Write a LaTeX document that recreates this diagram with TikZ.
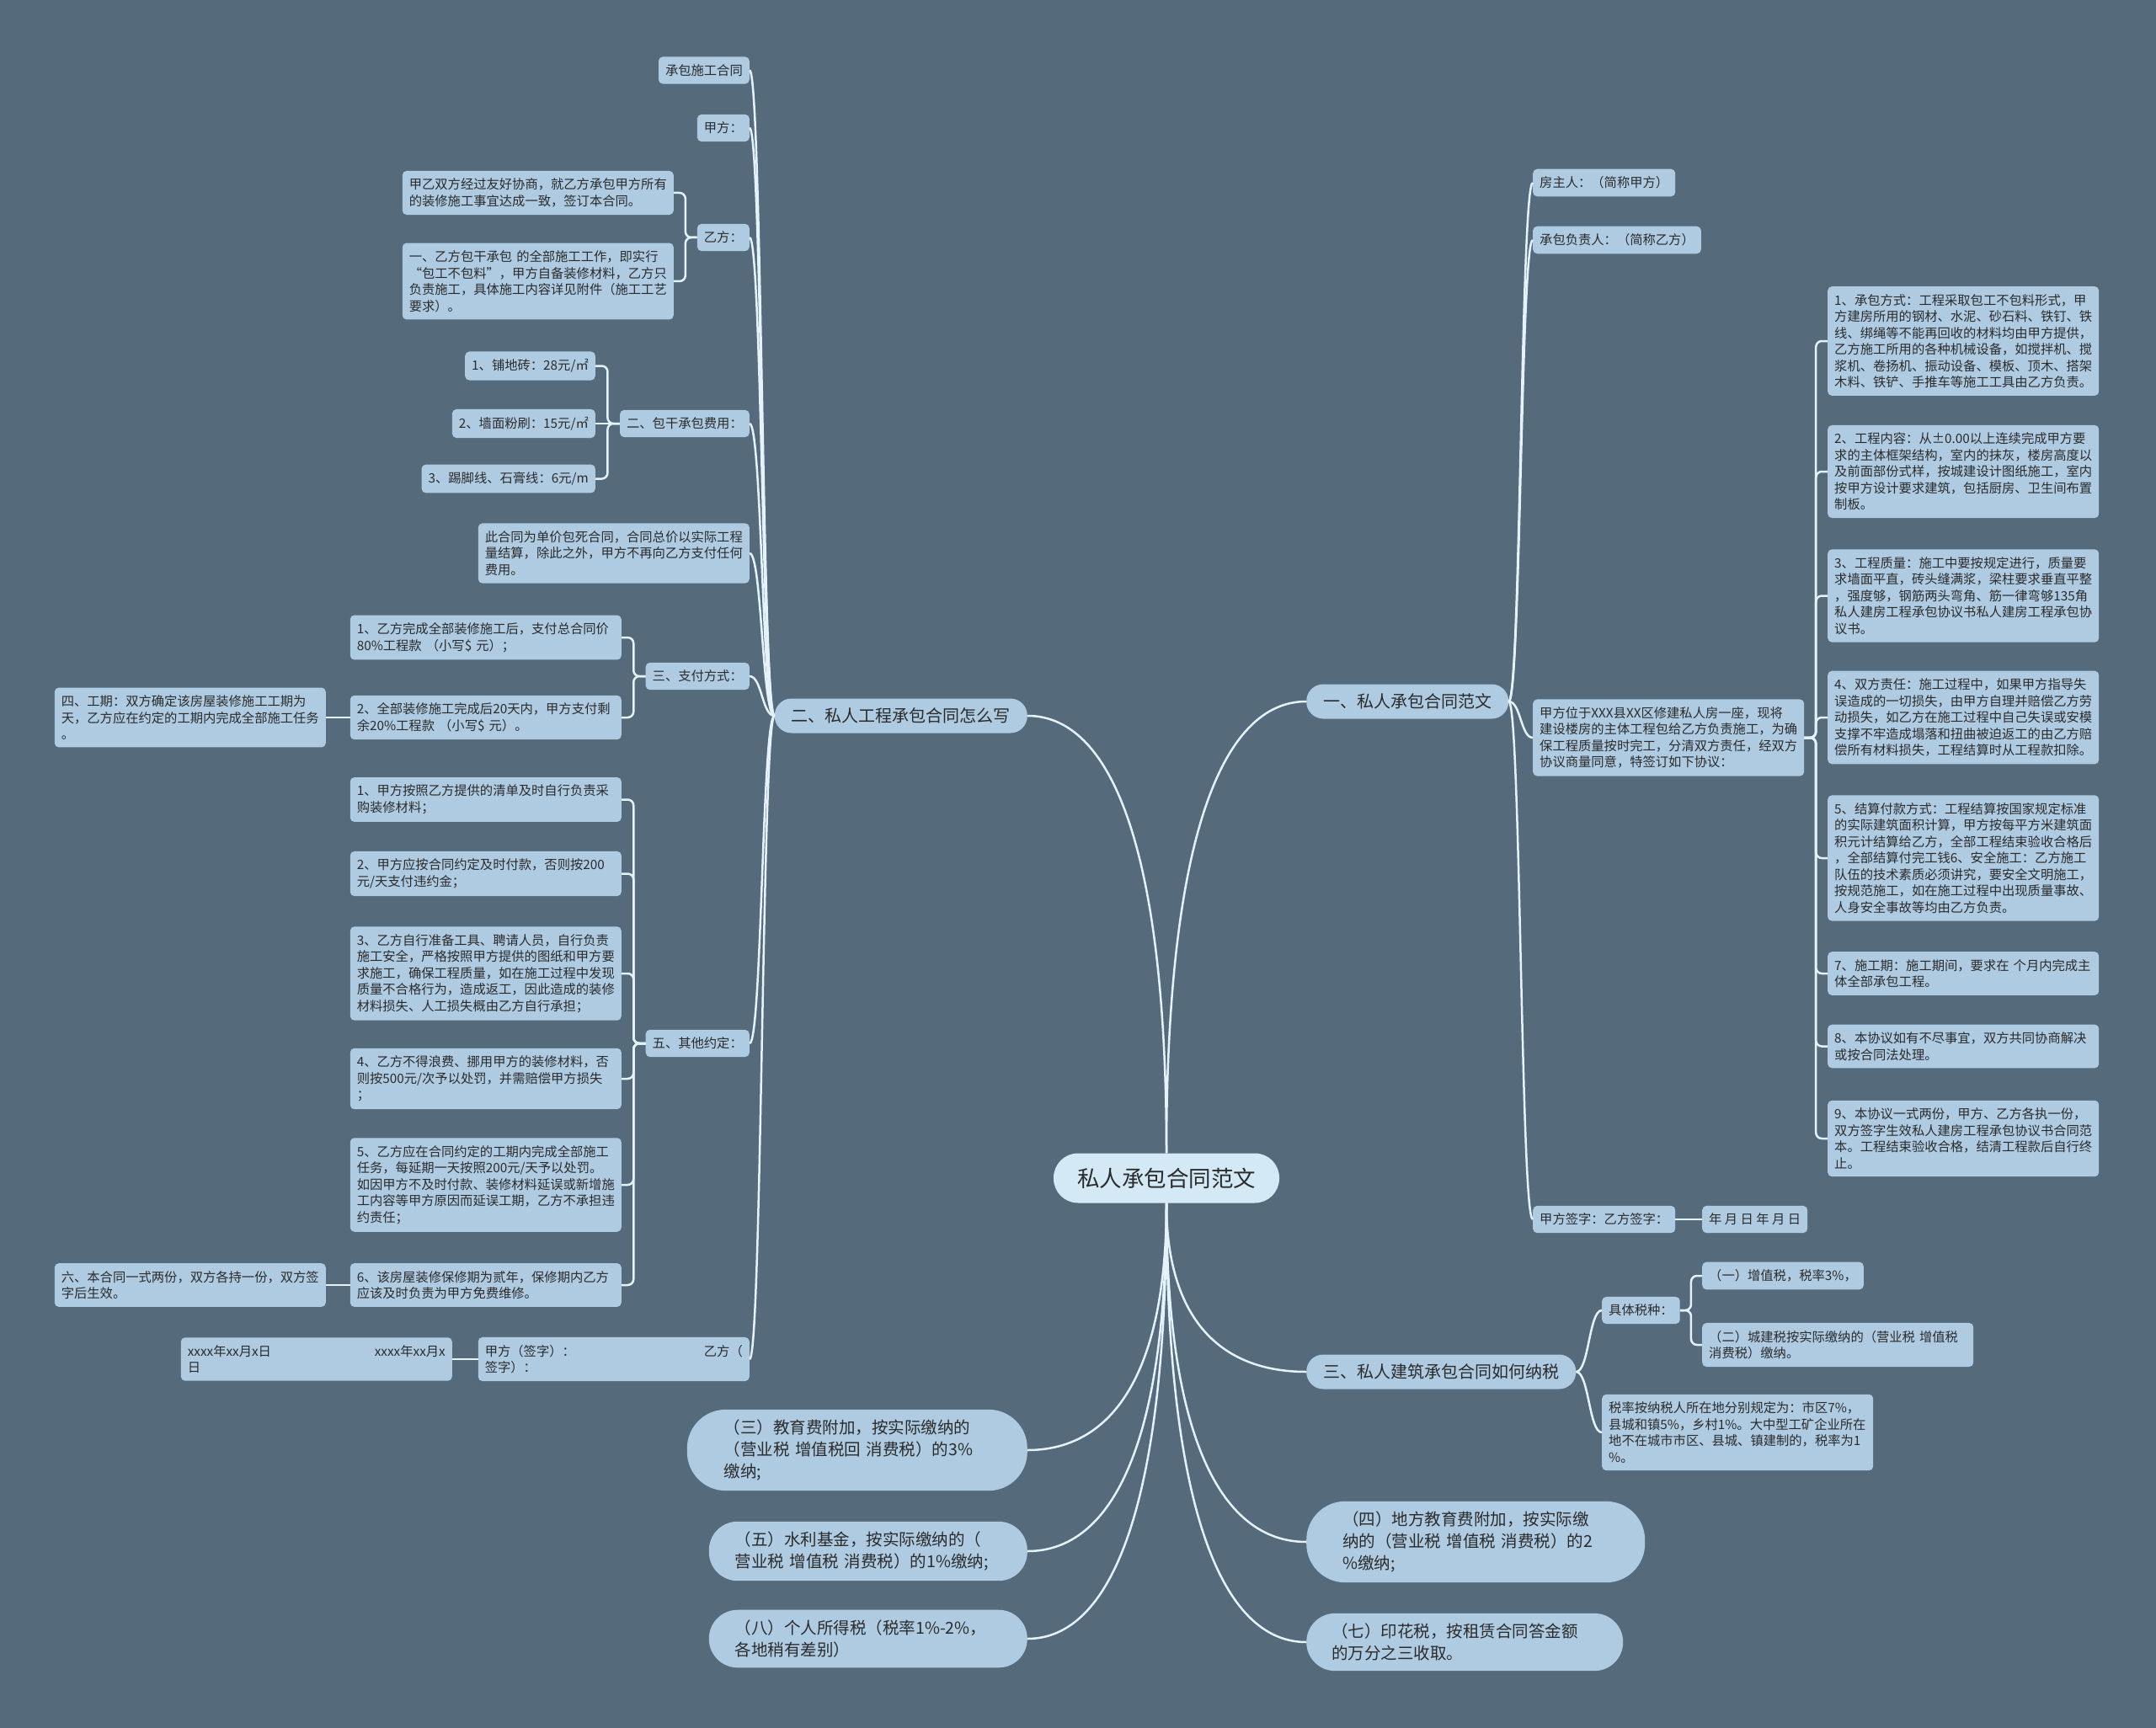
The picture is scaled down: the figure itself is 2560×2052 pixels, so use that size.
\documentclass[tikz,border=0pt]{standalone}
\usepackage{fontspec}
\setmainfont{Noto Sans CJK SC}
\usetikzlibrary{calc}
\definecolor{bg}{HTML}{556B7B}
\definecolor{leaffill}{HTML}{AECBE2}
\definecolor{rootfill}{HTML}{D3E9F5}
\definecolor{wire}{HTML}{E4F2F9}
\definecolor{ink}{HTML}{2B2B2B}
\newcommand{\leafsize}{\fontsize{15.3}{19.5}\selectfont}
\newcommand{\branchsize}{\fontsize{20}{26}\selectfont}
\newcommand{\pillsize}{\fontsize{19.5}{26}\selectfont}
\newcommand{\rootsize}{\fontsize{26.5}{32}\selectfont}
\newcommand{\curvelink}[2]{\draw[link] (#1) .. controls ($(#1)!0.7!(#1 |- #2)$) and ($(#2)!0.6!(#1 |- #2)$) .. (#2);}
\newcommand{\sidelink}[2]{\draw[link] (#1) .. controls ($(#1)!0.5!(#1 -| #2)$) and ($(#2)!0.5!(#2 -| #1)$) .. (#2);}
\newcommand{\bracelink}[2]{\draw[link, rounded corners=7pt] (#1) -- ($(#1)!0.5!(#1 -| #2)$) |- (#2);}

\begin{document}
\begin{tikzpicture}[
    x=1pt, y=-1pt,
    leaf/.style={fill=leaffill, text=ink, rounded corners=5pt, inner xsep=8pt, inner ysep=9pt, font=\leafsize},
    para/.style={leaf, text width=306pt, align=left},
    branch/.style={fill=leaffill, text=ink, rounded corners=20pt, inner xsep=20pt, minimum height=41pt, font=\branchsize},
    pill/.style={fill=leaffill, text=ink, rounded corners=34pt, inner ysep=12pt, text width=316pt, align=left, font=\pillsize},
    link/.style={draw=wire, line width=2.5pt}
]
\fill[bg] (0,0) rectangle (2560,2052);
\useasboundingbox (0,0) rectangle (2560,2052);

\node[fill=rootfill, text=ink, rounded corners=29pt, inner xsep=28pt, minimum height=59pt, font=\rootsize] (root) at (1385,1399) {私人承包合同范文};

\node[branch, anchor=east] (howto) at (1220,850) {二、私人工程承包合同怎么写};
\node[branch, anchor=west] (sample) at (1551,833) {一、私人承包合同范文};
\node[branch, anchor=west] (tax) at (1551,1629) {三、私人建筑承包合同如何纳税};
\node[pill, anchor=east, inner xsep=44pt, rounded corners=46pt] (edu) at (1220,1722) {（三）教育费附加，按实际缴纳的\\（营业税 增值税回 消费税）的3\%\\缴纳;};
\node[pill, anchor=east, inner xsep=31pt] (water) at (1220,1842) {（五）水利基金，按实际缴纳的（\\营业税 增值税 消费税）的1\%缴纳;};
\node[pill, anchor=east, inner xsep=31pt] (income) at (1220,1946) {（八）个人所得税（税率1\%-2\%，\\各地稍有差别）};
\node[pill, anchor=west, inner xsep=43pt, rounded corners=46pt] (localedu) at (1551,1831) {（四）地方教育费附加，按实际缴\\纳的（营业税 增值税 消费税）的2\\\%缴纳;};
\node[pill, anchor=west, inner xsep=30pt] (stamp) at (1551,1950) {（七）印花税，按租赁合同答金额\\的万分之三收取。};

\node[leaf, anchor=east] (title) at (890,83.5) {承包施工合同};
\node[leaf, anchor=east] (partA) at (890,152) {甲方：};
\node[leaf, anchor=east] (partB) at (890,282) {乙方：};
\node[para, anchor=east] (agree) at (800,229) {甲乙双方经过友好协商，就乙方承包甲方所有\\的装修施工事宜达成一致，签订本合同。};
\node[para, anchor=east] (scope) at (800,334) {一、乙方包干承包 的全部施工工作，即实行\\“包工不包料”，甲方自备装修材料，乙方只\\负责施工，具体施工内容详见附件（施工工艺\\要求）。};
\node[leaf, anchor=east] (fees) at (890,503) {二、包干承包费用：};
\node[leaf, anchor=east] (tile) at (707,434.5) {1、铺地砖：28元/㎡};
\node[leaf, anchor=east] (wall) at (707,503) {2、墙面粉刷：15元/㎡};
\node[leaf, anchor=east] (skirt) at (707,568.5) {3、踢脚线、石膏线：6元/m};
\node[para, anchor=east] (lump) at (890,657) {此合同为单价包死合同，合同总价以实际工程\\量结算，除此之外，甲方不再向乙方支付任何\\费用。};
\node[leaf, anchor=east] (pay) at (890,803) {三、支付方式：};
\node[para, anchor=east] (pay1) at (738,757) {1、乙方完成全部装修施工后，支付总合同价\\80\%工程款 （小写\$ 元）；};
\node[para, anchor=east] (pay2) at (738,852) {2、全部装修施工完成后20天内，甲方支付剩\\余20\%工程款 （小写\$ 元）。};
\node[para, anchor=east] (period) at (387,852) {四、工期：双方确定该房屋装修施工工期为\\天，乙方应在约定的工期内完成全部施工任务\\。};
\node[leaf, anchor=east] (other) at (890,1239) {五、其他约定：};
\node[para, anchor=east] (o1) at (738,949.5) {1、甲方按照乙方提供的清单及时自行负责采\\购装修材料；};
\node[para, anchor=east] (o2) at (738,1037.5) {2、甲方应按合同约定及时付款，否则按200\\元/天支付违约金；};
\node[para, anchor=east] (o3) at (738,1156) {3、乙方自行准备工具、聘请人员，自行负责\\施工安全，严格按照甲方提供的图纸和甲方要\\求施工，确保工程质量，如在施工过程中发现\\质量不合格行为，造成返工，因此造成的装修\\材料损失、人工损失概由乙方自行承担；};
\node[para, anchor=east] (o4) at (738,1281) {4、乙方不得浪费、挪用甲方的装修材料，否\\则按500元/次予以处罚，并需赔偿甲方损失\\；};
\node[para, anchor=east] (o5) at (738,1407) {5、乙方应在合同约定的工期内完成全部施工\\任务，每延期一天按照200元/天予以处罚。\\如因甲方不及时付款、装修材料延误或新增施\\工内容等甲方原因而延误工期，乙方不承担违\\约责任；};
\node[para, anchor=east] (o6) at (738,1526) {6、该房屋装修保修期为贰年，保修期内乙方\\应该及时负责为甲方免费维修。};
\node[para, anchor=east] (copies) at (387,1526) {六、本合同一式两份，双方各持一份，双方签\\字后生效。};
\node[para, anchor=east] (sign) at (890,1614) {甲方（签字）：\hfill 乙方（\\签字）：};
\node[para, anchor=east] (dates) at (537,1614) {xxxx年xx月x日 \hfill xxxx年xx月x\\日};

\node[leaf, anchor=west] (owner) at (1820,217) {房主人：（简称甲方）};
\node[leaf, anchor=west] (contractor) at (1820,285) {承包负责人：（简称乙方）};
\node[para, anchor=west] (intro) at (1820,876) {甲方位于XXX县XX区修建私人房一座，现将\\建设楼房的主体工程包给乙方负责施工，为确\\保工程质量按时完工，分清双方责任，经双方\\协议商量同意，特签订如下协议：};
\node[para, anchor=west] (c1) at (2170,405) {1、承包方式：工程采取包工不包料形式，甲\\方建房所用的钢材、水泥、砂石料、铁钉、铁\\线、绑绳等不能再回收的材料均由甲方提供，\\乙方施工所用的各种机械设备，如搅拌机、搅\\浆机、卷扬机、振动设备、模板、顶木、搭架\\木料、铁铲、手推车等施工工具由乙方负责。};
\node[para, anchor=west] (c2) at (2170,560) {2、工程内容：从±0.00以上连续完成甲方要\\求的主体框架结构，室内的抹灰，楼房高度以\\及前面部份式样，按城建设计图纸施工，室内\\按甲方设计要求建筑，包括厨房、卫生间布置\\制板。};
\node[para, anchor=west] (c3) at (2170,707.5) {3、工程质量：施工中要按规定进行，质量要\\求墙面平直，砖头缝满浆，梁柱要求垂直平整\\，强度够，钢筋两头弯角、筋一律弯够135角\\私人建房工程承包协议书私人建房工程承包协\\议书。};
\node[para, anchor=west] (c4) at (2170,852) {4、双方责任：施工过程中，如果甲方指导失\\误造成的一切损失，由甲方自理并赔偿乙方劳\\动损失，如乙方在施工过程中自己失误或安模\\支撑不牢造成塌落和扭曲被迫返工的由乙方赔\\偿所有材料损失，工程结算时从工程款扣除。};
\node[para, anchor=west] (c5) at (2170,1019) {5、结算付款方式：工程结算按国家规定标准\\的实际建筑面积计算，甲方按每平方米建筑面\\积元计结算给乙方，全部工程结束验收合格后\\，全部结算付完工钱6、安全施工：乙方施工\\队伍的技术素质必须讲究，要安全文明施工，\\按规范施工，如在施工过程中出现质量事故、\\人身安全事故等均由乙方负责。};
\node[para, anchor=west] (c7) at (2170,1156) {7、施工期：施工期间，要求在 个月内完成主\\体全部承包工程。};
\node[para, anchor=west] (c8) at (2170,1242.5) {8、本协议如有不尽事宜，双方共同协商解决\\或按合同法处理。};
\node[para, anchor=west] (c9) at (2170,1352) {9、本协议一式两份，甲方、乙方各执一份，\\双方签字生效私人建房工程承包协议书合同范\\本。工程结束验收合格，结清工程款后自行终\\止。};
\node[leaf, anchor=west] (signR) at (1820,1448) {甲方签字：乙方签字：};
\node[leaf, anchor=west] (datesR) at (2021,1448) {年 月 日 年 月 日};

\node[leaf, anchor=west] (kinds) at (1902,1556) {具体税种：};
\node[leaf, anchor=west] (vat) at (2021,1515) {（一）增值税，税率3\%，};
\node[para, anchor=west] (city) at (2021,1597) {（二）城建税按实际缴纳的（营业税 增值税\\消费税）缴纳。};
\node[para, anchor=west] (rates) at (1902,1701) {税率按纳税人所在地分别规定为：市区7\%，\\县城和镇5\%，乡村1\%。大中型工矿企业所在\\地不在城市市区、县城、镇建制的，税率为1\\\%。};

\curvelink{root.north}{howto.east}
\curvelink{root.north}{sample.west}
\foreach \n in {edu,water,income} {\curvelink{root.south}{\n.east}}
\foreach \n in {tax,localedu,stamp} {\curvelink{root.south}{\n.west}}

\foreach \n in {title,partA,partB,fees,lump,pay,other,sign} {\sidelink{howto.west}{\n.east}}
\foreach \n in {owner,contractor,intro,signR} {\sidelink{sample.east}{\n.west}}
\foreach \n in {kinds,rates} {\sidelink{tax.east}{\n.west}}

\foreach \n in {agree,scope} {\bracelink{partB.west}{\n.east}}
\foreach \n in {tile,skirt} {\bracelink{fees.west}{\n.east}}
\draw[link] (fees.west) -- (wall.east);
\foreach \n in {pay1,pay2} {\bracelink{pay.west}{\n.east}}
\foreach \n in {o1,o2,o3,o4,o5,o6} {\bracelink{other.west}{\n.east}}
\foreach \n in {c1,c2,c3,c4,c5,c7,c8,c9} {\bracelink{intro.east}{\n.west}}
\foreach \n in {vat,city} {\bracelink{kinds.east}{\n.west}}
\draw[link] (pay2.west) -- (period.east);
\draw[link] (o6.west) -- (copies.east);
\draw[link] (sign.west) -- (dates.east);
\draw[link] (signR.east) -- (datesR.west);
\end{tikzpicture}
\end{document}
